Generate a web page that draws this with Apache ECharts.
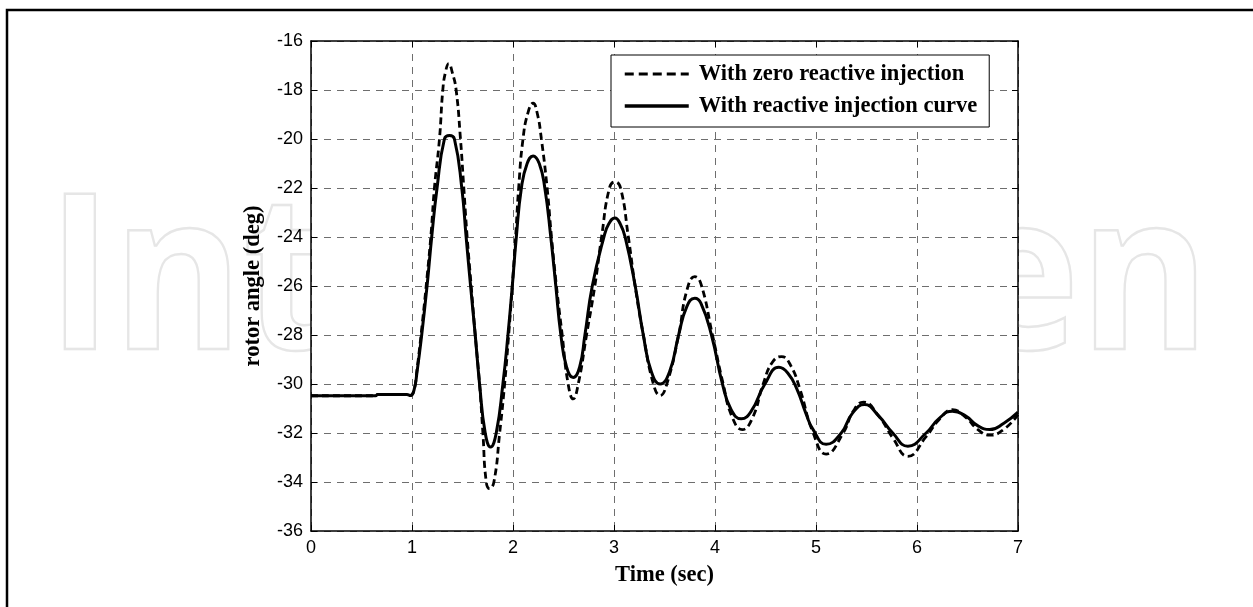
<!DOCTYPE html>
<html>
<head>
<meta charset="utf-8">
<script src="https://cdn.jsdelivr.net/npm/echarts@6/dist/echarts.min.js"></script>
<style>
  html, body { margin: 0; padding: 0; background: #fff; }
  #chart { width: 1253px; height: 607px; }
</style>
</head>
<body>
<div id="chart"></div>
<script>
// Rotor angle response, sampled at the turning points and grid crossings (seconds, degrees)
const timeZero = [0, 0.35, 0.64, 0.66, 0.95, 0.985, 1.02, 1.05, 1.10, 1.15, 1.19, 1.222, 1.272, 1.305, 1.33, 1.364,
  1.40, 1.437, 1.48, 1.513, 1.546, 1.586, 1.626, 1.669, 1.702, 1.735, 1.768, 1.811, 1.868, 1.917, 1.957, 1.993,
  2.026, 2.056, 2.099, 2.15, 2.199, 2.24, 2.281, 2.338, 2.381, 2.43, 2.487, 2.546, 2.596, 2.646, 2.728, 2.81,
  2.877, 2.955, 3.01, 3.065, 3.142, 3.209, 3.291, 3.39, 3.457, 3.523, 3.64, 3.72, 3.80, 3.86, 3.975, 4.081,
  4.17, 4.27, 4.37, 4.477, 4.57, 4.66, 4.75, 4.84, 4.972, 5.10, 5.269, 5.37, 5.47, 5.62, 5.76, 5.91,
  6.09, 6.22, 6.35, 6.48, 6.60, 6.72, 6.86, 7.0];
const angleZero = [-30.48, -30.48, -30.48, -30.43, -30.43, -30.47, -30.25, -29.4, -27.6, -25.6, -23.8, -22.0, -20.0, -18.0, -17.3, -16.92,
  -17.3, -18.0, -20.0, -22.0, -24.0, -26.0, -28.0, -30.0, -32.0, -34.0, -34.27, -34.0, -32.0, -30.0, -28.0, -26.0,
  -24.0, -22.0, -20.0, -18.9, -18.54, -18.95, -20.0, -22.0, -24.0, -26.0, -28.0, -30.0, -30.61, -30.0, -28.0, -26.0,
  -24.0, -22.0, -21.75, -22.0, -24.0, -26.0, -28.0, -30.0, -30.47, -30.0, -28.0, -26.2, -25.62, -25.9, -28.0, -30.0,
  -31.35, -31.86, -31.4, -30.0, -29.1, -28.88, -29.25, -30.2, -32.0, -32.86, -32.0, -31.1, -30.74, -31.3, -32.2, -32.95,
  -32.15, -31.45, -31.05, -31.35, -31.85, -32.09, -31.85, -31.25];

const timeCurve = [0, 0.35, 0.64, 0.66, 0.95, 0.985, 1.02, 1.05, 1.096, 1.149, 1.195, 1.248, 1.321, 1.371, 1.42,
  1.493, 1.536, 1.58, 1.626, 1.669, 1.725, 1.778, 1.834, 1.90, 1.95, 1.993, 2.033, 2.083, 2.14, 2.199, 2.26,
  2.315, 2.374, 2.424, 2.474, 2.53, 2.596, 2.66, 2.712, 2.785, 2.90, 2.95, 3.01, 3.06, 3.11, 3.21, 3.29,
  3.37, 3.457, 3.55, 3.64, 3.72, 3.80, 3.86, 3.965, 4.074, 4.16, 4.26, 4.36, 4.494, 4.632, 4.72, 4.81,
  4.90, 4.97, 5.10, 5.25, 5.36, 5.48, 5.62, 5.76, 5.91, 6.09, 6.22, 6.35, 6.48, 6.60, 6.72, 6.86, 7.0];
const angleCurve = [-30.48, -30.48, -30.48, -30.43, -30.43, -30.47, -30.25, -29.5, -28.0, -26.0, -24.0, -22.0, -20.0, -19.86, -20.0,
  -22.0, -24.0, -26.0, -28.0, -30.0, -32.0, -32.57, -32.0, -30.0, -28.0, -26.0, -24.0, -22.0, -21.0, -20.69, -21.0,
  -22.0, -24.0, -26.0, -28.0, -29.3, -29.73, -29.3, -28.0, -26.0, -24.0, -23.45, -23.22, -23.45, -24.0, -26.0, -28.0,
  -29.5, -30.0, -29.5, -28.0, -26.85, -26.5, -26.7, -28.0, -30.0, -31.05, -31.42, -31.1, -30.0, -29.32, -29.55, -30.2,
  -31.2, -31.85, -32.46, -32.0, -31.2, -30.84, -31.3, -32.0, -32.54, -32.0, -31.4, -31.11, -31.3, -31.7, -31.86, -31.6, -31.15];

const seriesNames = ['With zero reactive injection', 'With reactive injection curve'];
const xName = 'Time (sec)';
const yName = 'rotor angle (deg)';

const pairs = (xs, ys) => xs.map((x, i) => [x, ys[i]]);

const serif = '"Liberation Serif", "Times New Roman", serif';
const sans = '"Liberation Sans", Arial, sans-serif';

const frameAxis = {
  axisLine: { show: true, onZero: false, lineStyle: { color: '#000', width: 1.5 } },
  axisTick: { show: true, inside: true, length: 6, lineStyle: { color: '#000', width: 1 } },
  axisLabel: { show: false },
  splitLine: { show: false }
};
const gridDash = { color: '#6e6e6e', width: 1, type: [7, 6] };

const chart = echarts.init(document.getElementById('chart'));
chart.setOption({
  animation: false,
  backgroundColor: '#fff',
  graphic: [
    {
      type: 'text',
      z: -10,
      x: 47,
      y: 287,
      scaleX: 0.91,
      silent: true,
      style: {
        text: 'IntechOpen',
        fontFamily: '"Open Sans", "DejaVu Sans", sans-serif',
        fontWeight: 'bold',
        fontSize: 218,
        fill: 'transparent',
        stroke: '#e6e6e6',
        lineWidth: 2.5,
        align: 'left',
        verticalAlign: 'middle'
      }
    },
    {
      type: 'polyline',
      z: 100,
      silent: true,
      shape: { points: [[7, 607], [7, 10], [1253, 10]] },
      style: { stroke: '#000', lineWidth: 2.5, fill: null }
    }
  ],
  grid: {
    left: 311, right: 235, top: 41, bottom: 76,
    show: true, backgroundColor: '#fff', borderWidth: 0
  },
  legend: {
    orient: 'vertical',
    left: 611, top: 55,
    padding: [7, 12, 9, 12],
    itemWidth: 64, itemHeight: 20, itemGap: 8,
    backgroundColor: '#fff', borderColor: '#000', borderWidth: 1, borderRadius: 0,
    itemStyle: { opacity: 0 },
    textStyle: { fontFamily: serif, fontWeight: 'bold', fontSize: 22.5, color: '#000', lineHeight: 24, padding: [0, 0, 0, 5] },
    data: [
      { name: seriesNames[0], lineStyle: { width: 3, type: [9, 5] } },
      { name: seriesNames[1], lineStyle: { width: 3.5 } }
    ]
  },
  xAxis: [
    {
      type: 'value', min: 0, max: 7, interval: 1, position: 'bottom',
      axisLine: { show: true, onZero: false, lineStyle: { color: '#000', width: 1.5 } },
      axisTick: { show: true, inside: true, length: 6, lineStyle: { color: '#000', width: 1 } },
      axisLabel: { color: '#000', fontFamily: sans, fontSize: 18, margin: 8 },
      splitLine: { show: true, lineStyle: gridDash },
      name: xName, nameLocation: 'middle', nameGap: 33,
      nameTextStyle: { fontFamily: serif, fontWeight: 'bold', fontSize: 22.5, color: '#000' }
    },
    Object.assign({ type: 'value', min: 0, max: 7, interval: 1, position: 'top' }, frameAxis)
  ],
  yAxis: [
    {
      type: 'value', min: -36, max: -16, interval: 2, position: 'left',
      axisLine: { show: true, onZero: false, lineStyle: { color: '#000', width: 1.5 } },
      axisTick: { show: true, inside: true, length: 6, lineStyle: { color: '#000', width: 1 } },
      axisLabel: { color: '#000', fontFamily: sans, fontSize: 18, margin: 8 },
      splitLine: { show: true, lineStyle: gridDash },
      name: yName, nameLocation: 'middle', nameGap: 46,
      nameTextStyle: { fontFamily: serif, fontWeight: 'bold', fontSize: 22.5, color: '#000' }
    },
    Object.assign({ type: 'value', min: -36, max: -16, interval: 2, position: 'right' }, frameAxis)
  ],
  series: [
    {
      name: seriesNames[0], type: 'line', xAxisIndex: 0, yAxisIndex: 0,
      data: pairs(timeZero, angleZero),
      smooth: 0.5, symbol: 'none', showSymbol: false,
      lineStyle: { color: '#000', width: 2.8, type: [7, 4] },
      itemStyle: { color: '#000' }, z: 3
    },
    {
      name: seriesNames[1], type: 'line', xAxisIndex: 0, yAxisIndex: 0,
      data: pairs(timeCurve, angleCurve),
      smooth: 0.5, symbol: 'none', showSymbol: false,
      lineStyle: { color: '#000', width: 3 },
      itemStyle: { color: '#000' }, z: 4
    }
  ]
});
</script>
</body>
</html>
